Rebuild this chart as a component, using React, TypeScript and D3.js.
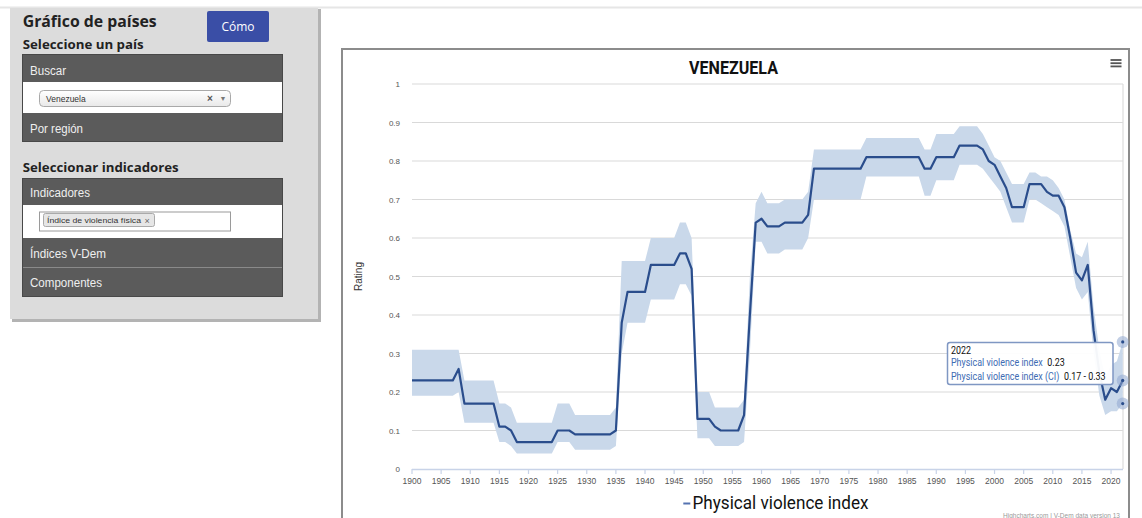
import React from 'react';
import * as d3 from 'd3';

// ---------- DATA ----------
const years: number[] = d3.range(1900, 2023);

const violenceIndex: number[] = [
  0.23, 0.23, 0.23, 0.23, 0.23, 0.23, 0.23, 0.23, // 1900-1907
  0.26, // 1908
  0.17, 0.17, 0.17, 0.17, 0.17, 0.17, // 1909-1914
  0.11, 0.11, 0.10, // 1915-1917
  0.07, 0.07, 0.07, 0.07, 0.07, 0.07, 0.07, // 1918-1924
  0.10, 0.10, 0.10, // 1925-1927
  0.09, 0.09, 0.09, 0.09, 0.09, 0.09, 0.09, // 1928-1934
  0.10, 0.38, // 1935-1936
  0.46, 0.46, 0.46, 0.46, // 1937-1940
  0.53, 0.53, 0.53, 0.53, 0.53, // 1941-1945
  0.56, 0.56, 0.52, // 1946-1948
  0.13, 0.13, 0.13, 0.11, // 1949-1952
  0.10, 0.10, 0.10, 0.10, // 1953-1956
  0.14, 0.40, 0.64, 0.65, // 1957-1960
  0.63, 0.63, 0.63, // 1961-1963
  0.64, 0.64, 0.64, 0.64, 0.66, // 1964-1968
  0.78, 0.78, 0.78, 0.78, 0.78, 0.78, 0.78, 0.78, 0.78, // 1969-1977
  0.81, 0.81, 0.81, 0.81, 0.81, 0.81, 0.81, 0.81, 0.81, 0.81, // 1978-1987
  0.78, 0.78, // 1988-1989
  0.81, 0.81, 0.81, 0.81, // 1990-1993
  0.84, 0.84, 0.84, 0.84, // 1994-1997
  0.83, 0.80, 0.79, 0.76, 0.73, // 1998-2002
  0.68, 0.68, 0.68, // 2003-2005
  0.74, 0.74, 0.74, // 2006-2008
  0.72, 0.71, 0.71, 0.68, 0.60, 0.51, 0.49, 0.53, // 2009-2016
  0.36, 0.25, 0.18, 0.21, 0.20, 0.23, // 2017-2022
];

const ciLow: number[] = [
  0.19, 0.19, 0.19, 0.19, 0.19, 0.19, 0.19, 0.19, // 1900-1907
  0.20, // 1908
  0.12, 0.12, 0.12, 0.12, 0.12, 0.12, // 1909-1914
  0.07, 0.07, 0.06, // 1915-1917
  0.04, 0.04, 0.04, 0.04, 0.04, 0.04, 0.04, // 1918-1924
  0.07, 0.07, 0.07, // 1925-1927
  0.05, 0.05, 0.05, 0.05, 0.05, 0.05, 0.05, // 1928-1934
  0.06, 0.30, // 1935-1936
  0.38, 0.38, 0.38, 0.38, // 1937-1940
  0.44, 0.44, 0.44, 0.44, 0.44, // 1941-1945
  0.48, 0.48, 0.45, // 1946-1948
  0.08, 0.08, 0.08, 0.06, // 1949-1952
  0.06, 0.06, 0.06, 0.06, // 1953-1956
  0.07, 0.30, 0.59, 0.59, // 1957-1960
  0.56, 0.56, 0.56, // 1961-1963
  0.57, 0.57, 0.57, 0.57, 0.60, // 1964-1968
  0.70, 0.70, 0.70, 0.70, 0.70, 0.70, 0.70, 0.70, 0.70, // 1969-1977
  0.76, 0.76, 0.76, 0.76, 0.76, 0.76, 0.76, 0.76, 0.76, 0.76, // 1978-1987
  0.71, 0.71, // 1988-1989
  0.75, 0.75, 0.75, 0.75, // 1990-1993
  0.79, 0.79, 0.79, 0.79, // 1994-1997
  0.78, 0.76, 0.74, 0.72, 0.68, // 1998-2002
  0.64, 0.64, 0.64, // 2003-2005
  0.70, 0.70, 0.69, // 2006-2008
  0.68, 0.67, 0.66, 0.63, 0.55, 0.47, 0.44, 0.46, // 2009-2016
  0.30, 0.19, 0.14, 0.15, 0.15, 0.17, // 2017-2022
];

const ciHigh: number[] = [
  0.31, 0.31, 0.31, 0.31, 0.31, 0.31, 0.31, 0.31, // 1900-1907
  0.31, // 1908
  0.23, 0.23, 0.23, 0.23, 0.23, 0.23, // 1909-1914
  0.17, 0.17, 0.16, // 1915-1917
  0.12, 0.12, 0.12, 0.12, 0.12, 0.12, 0.12, // 1918-1924
  0.17, 0.17, 0.17, // 1925-1927
  0.14, 0.14, 0.14, 0.14, 0.14, 0.14, 0.14, // 1928-1934
  0.16, 0.54, // 1935-1936
  0.54, 0.54, 0.54, 0.54, // 1937-1940
  0.60, 0.60, 0.60, 0.60, 0.60, // 1941-1945
  0.64, 0.64, 0.60, // 1946-1948
  0.20, 0.20, 0.20, 0.16, // 1949-1952
  0.16, 0.16, 0.16, 0.16, // 1953-1956
  0.18, 0.50, 0.69, 0.72, // 1957-1960
  0.69, 0.69, 0.69, // 1961-1963
  0.70, 0.70, 0.70, 0.70, 0.72, // 1964-1968
  0.83, 0.83, 0.83, 0.83, 0.83, 0.83, 0.83, 0.83, 0.83, // 1969-1977
  0.86, 0.86, 0.86, 0.86, 0.86, 0.86, 0.86, 0.86, 0.86, 0.86, // 1978-1987
  0.83, 0.83, // 1988-1989
  0.87, 0.87, 0.87, 0.87, // 1990-1993
  0.89, 0.89, 0.89, 0.89, // 1994-1997
  0.87, 0.84, 0.81, 0.80, 0.77, // 1998-2002
  0.74, 0.74, 0.74, // 2003-2005
  0.77, 0.77, 0.76, // 2006-2008
  0.76, 0.75, 0.73, 0.70, 0.62, 0.56, 0.55, 0.59, // 2009-2016
  0.42, 0.31, 0.24, 0.27, 0.28, 0.33, // 2017-2022
];

const xTickYears: number[] = d3.range(1900, 2021, 5);
const yTickValues: number[] = [0, 0.1, 0.2, 0.3, 0.4, 0.5, 0.6, 0.7, 0.8, 0.9, 1];
const yTickLabels: string[] = ['0', '0.1', '0.2', '0.3', '0.4', '0.5', '0.6', '0.7', '0.8', '0.9', '1'];

const chartTitle = 'VENEZUELA';
const seriesName = 'Physical violence index';
const seriesCIName = 'Physical violence index (CI)';
const yAxisTitle = 'Rating';
const creditsText = 'Highcharts.com | V-Dem data version 13';
const hoverYear = 2022;

const LINE = '#2a4d8c';
const BAND = '#c9d8ea';

type Row = { yr: number; v: number; lo: number; hi: number };

export default function App() {
  const data: Row[] = years.map((yr, i) => ({ yr, v: violenceIndex[i], lo: ciLow[i], hi: ciHigh[i] }));
  const x = d3.scaleLinear().domain([1900, 2022]).range([412, 1122.7]);
  const y = d3.scaleLinear().domain([0, 1]).range([469, 84]);

  const linePath = d3.line<Row>().x(d => x(d.yr)).y(d => y(d.v))(data) || '';
  const areaPath = d3.area<Row>().x(d => x(d.yr)).y0(d => y(d.lo)).y1(d => y(d.hi))(data) || '';

  const hover = data.find(d => d.yr === hoverYear)!;
  const hx = x(hover.yr);

  const darkRow = '#5b5b5b';
  const rowText = '#efefef';
  const sans = "'Liberation Sans', Arial, sans-serif";
  const open = "'Open Sans', sans-serif";
  const rob = 'Roboto, sans-serif';

  return (
    <div style={{ position: 'fixed', left: 0, top: 0, width: 1142, height: 518, background: '#fff' }}>
      <svg width={1142} height={518} style={{ display: 'block' }}>
        {/* top rule */}
        <rect x={0} y={6.5} width={1142} height={2} fill="#e6e6e6" />

        {/* ---------- left panel ---------- */}
        <rect x={12} y={9} width={309} height={313} fill="#b3b3b3" />
        <rect x={10} y={8} width={308} height={311} fill="#dcdcdc" />
        <text x={22.7} y={26.7} fontFamily={open} fontWeight={700} fontSize={15.5} fill="#222"
          textLength={134} lengthAdjust="spacingAndGlyphs">Gráfico de países</text>
        <rect x={207} y={11} width={62} height={31} rx={2} fill="#3a4ea6" />
        <text x={238} y={31} textAnchor="middle" fontFamily={open} fontSize={12} fill="#fff">Cómo</text>
        <text x={22.7} y={48.7} fontFamily={open} fontWeight={700} fontSize={13} fill="#222"
          textLength={121} lengthAdjust="spacingAndGlyphs">Seleccione un país</text>

        {/* country box */}
        <rect x={22.5} y={54.5} width={260} height={87} fill={darkRow} stroke="#484848" />
        <rect x={23} y={82} width={259} height={31} fill="#fff" />
        <text x={30} y={74.5} fontFamily={sans} fontSize={12} fill={rowText}
          textLength={36} lengthAdjust="spacingAndGlyphs">Buscar</text>
        <defs>
          <linearGradient id="selg" x1="0" y1="0" x2="0" y2="1">
            <stop offset="0" stopColor="#ffffff" />
            <stop offset="1" stopColor="#e9e9e9" />
          </linearGradient>
        </defs>
        <rect x={39.5} y={90.5} width={191} height={16} rx={4} fill="url(#selg)" stroke="#a9a9a9" />
        <text x={46} y={101.5} fontFamily={sans} fontSize={8.5} fill="#333">Venezuela</text>
        <text x={207} y={102} fontFamily={sans} fontSize={10} fontWeight={700} fill="#555">×</text>
        <text x={219.5} y={101} fontFamily={sans} fontSize={7} fill="#777">▼</text>
        <text x={30} y={133} fontFamily={sans} fontSize={12} fill={rowText}
          textLength={53} lengthAdjust="spacingAndGlyphs">Por región</text>

        <text x={22.7} y={171.5} fontFamily={open} fontWeight={700} fontSize={13} fill="#222"
          textLength={156} lengthAdjust="spacingAndGlyphs">Seleccionar indicadores</text>

        {/* indicators box */}
        <rect x={22.5} y={178.5} width={260} height={118} fill={darkRow} stroke="#484848" />
        <rect x={23} y={205} width={259} height={33} fill="#fff" />
        <line x1={23} x2={282} y1={267.5} y2={267.5} stroke="#8a8a8a" />
        <text x={30} y={197} fontFamily={sans} fontSize={12} fill={rowText}
          textLength={60} lengthAdjust="spacingAndGlyphs">Indicadores</text>
        <rect x={39.5} y={212} width={191} height={19} fill="#fff" stroke="#9a9a9a" />
        <rect x={43.5} y={213.5} width={111} height={13} rx={2} fill="#e6e6e6" stroke="#aaa" />
        <text x={47} y={223} fontFamily={sans} fontSize={8} fill="#333"
          textLength={94} lengthAdjust="spacingAndGlyphs">Índice de violencia física</text>
        <text x={144.5} y={223.5} fontFamily={sans} fontSize={9} fill="#666">×</text>
        <text x={30} y={258} fontFamily={sans} fontSize={12} fill={rowText}
          textLength={76} lengthAdjust="spacingAndGlyphs">Índices V-Dem</text>
        <text x={30} y={287} fontFamily={sans} fontSize={12} fill={rowText}
          textLength={72} lengthAdjust="spacingAndGlyphs">Componentes</text>

        {/* ---------- chart frame ---------- */}
        <rect x={342} y={49} width={787} height={480} fill="#fff" stroke="#8c8c8c" strokeWidth={2} />

        <text x={733.5} y={74} textAnchor="middle" fontFamily={rob} fontWeight={700}
          fontSize={18.5} fill="#111" textLength={89} lengthAdjust="spacingAndGlyphs">{chartTitle}</text>

        {/* menu icon */}
        {[60, 63.2, 66.4].map(yy => (
          <rect key={yy} x={1110.5} y={yy - 0.9} width={11} height={1.8} fill="#555" />
        ))}

        {/* grid + y labels */}
        {yTickValues.map((t, i) => (
          <g key={t}>
            {t > 0 && <line x1={412} x2={1123} y1={y(t)} y2={y(t)} stroke="#d9d9d9" strokeWidth={1.2} />}
            <text x={400} y={y(t) + 3} textAnchor="end" fontFamily={sans} fontSize={8} fill="#555">
              {yTickLabels[i]}
            </text>
          </g>
        ))}
        <line x1={1123} x2={1123} y1={84} y2={469} stroke="#dcdcdc" strokeWidth={1.2} />

        {/* y axis title */}
        <text transform={`translate(361.5, ${y(0.5)}) rotate(-90)`} textAnchor="middle"
          fontFamily={sans} fontSize={10} fill="#333">{yAxisTitle}</text>

        {/* series */}
        <path d={areaPath} fill={BAND} stroke="none" />
        <path d={linePath} fill="none" stroke={LINE} strokeWidth={2.2} strokeLinejoin="round" />

        {/* x axis */}
        <line x1={412} x2={1123} y1={469.5} y2={469.5} stroke="#c8d3e8" strokeWidth={1.5} />
        {xTickYears.map(t => (
          <g key={t}>
            <line x1={x(t)} x2={x(t)} y1={469} y2={474} stroke="#c8d3e8" strokeWidth={1.2} />
            <text x={x(t)} y={483.5} textAnchor="middle" fontFamily={sans} fontSize={8.5} fill="#555">{t}</text>
          </g>
        ))}

        {/* hover markers */}
        {[hover.hi, hover.v, hover.lo].map((val, i) => (
          <g key={i}>
            <circle cx={hx} cy={y(val)} r={6} fill="#8fa8cf" fillOpacity={0.55} />
            <circle cx={hx} cy={y(val)} r={1.6} fill={LINE} />
          </g>
        ))}

        {/* tooltip */}
        <rect x={947.5} y={342.5} width={165.5} height={42} rx={2.5} fill="#fff" fillOpacity={0.95}
          stroke="#7f97c3" strokeWidth={1.5} />
        <g transform="translate(951, 0) scale(0.85, 1)" fontFamily={rob} fontSize={10.5}>
          <text x={0} y={353.6} fill="#111">{hover.yr}</text>
          <text x={0} y={366.3}>
            <tspan fill="#3e6bb3">{seriesName}</tspan>
            <tspan dx={5.5} fill="#111">{hover.v.toFixed(2)}</tspan>
          </text>
          <text x={0} y={380}>
            <tspan fill="#3e6bb3">{seriesCIName}</tspan>
            <tspan dx={5.5} fill="#111">{`${hover.lo.toFixed(2)} - ${hover.hi.toFixed(2)}`}</tspan>
          </text>
        </g>

        {/* legend */}
        <line x1={683.3} x2={690.3} y1={503.5} y2={503.5} stroke="#5472b0" strokeWidth={2} />
        <text x={692.5} y={509.3} fontFamily={rob} fontSize={17.5} fill="#111"
          textLength={176} lengthAdjust="spacingAndGlyphs">{seriesName}</text>

        {/* credits */}
        <text x={1120} y={517.5} textAnchor="end" fontFamily={sans} fontSize={6.5} fill="#999"
          textLength={117} lengthAdjust="spacingAndGlyphs">{creditsText}</text>
      </svg>
    </div>
  );
}
